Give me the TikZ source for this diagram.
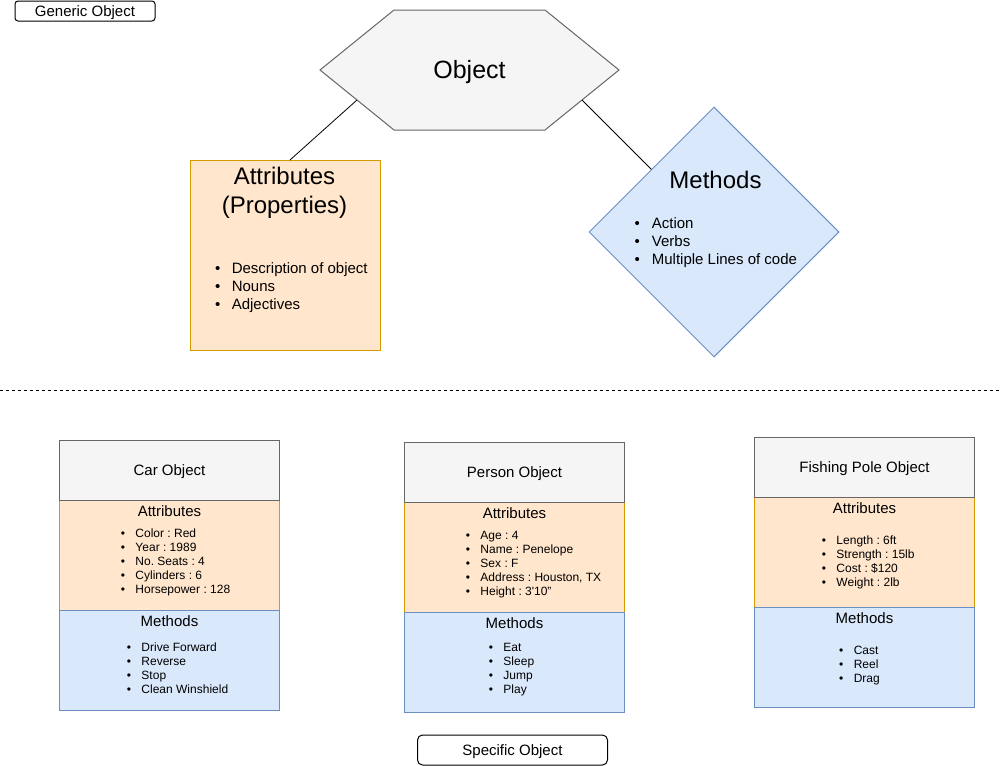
\documentclass[tikz,border=0pt]{standalone}
\usepackage{fontspec}
\setmainfont{Liberation Sans}
\usetikzlibrary{shapes.geometric, positioning}
\usetikzlibrary{calc}

\definecolor{graydraw}{HTML}{666666}
\definecolor{grayfill}{HTML}{F5F5F5}
\definecolor{ordraw}{HTML}{D79B00}
\definecolor{orfill}{HTML}{FFE6CC}
\definecolor{bldraw}{HTML}{6C8EBF}
\definecolor{blfill}{HTML}{DAE8FC}

\newcommand{\bul}[1]{\makebox[0pt]{\textbullet}\hspace{#1}}
\frenchspacing

\begin{document}
\begin{tikzpicture}
	[   x=1pt, y=-1pt,
		box/.style={draw=#1draw,fill=#1fill,line width=1pt,minimum width=220pt,inner sep=0pt,outer sep=0pt,anchor=north west,text depth=0pt,font=\fontsize{15}{18}\selectfont},
		tag/.style={draw=black,fill=white,rounded corners=#1,line width=1pt,inner sep=0pt,text depth=0pt,font=\fontsize{15}{18}\selectfont},
		big/.style={anchor=base,inner sep=0pt,font=\fontsize{#1}{30}\selectfont},
		big/.default=24,
		lbl/.style={anchor=base,inner sep=0pt,font=\fontsize{15}{18}\selectfont},
		item/.style={anchor=base west,inner sep=0pt,font=\fontsize{#1}{18}\selectfont},
		item/.default=12,
	]
	\tikzset{hexa/.style={draw=graydraw,fill=grayfill,line width=1pt}}
	\tikzset{link/.style={draw=black,line width=0.8pt}}
	\tikzset{sep line/.style={draw=black,line width=1pt,dash pattern=on 3pt off 3pt}}
	\useasboundingbox (0,0) rectangle (1002,766);
	
	% generic object
	\node[tag=3pt,minimum width=140pt,minimum height=20pt] (gen) at (85,11) {Generic Object};
	
	\coordinate (hex-w) at (320,70);
	\coordinate (hex-nw) at (394,10);
	\coordinate (hex-ne) at (545,10);
	\coordinate (hex-e) at (619,70);
	\coordinate (hex-se) at (545,130);
	\coordinate (hex-sw) at (394,130);
	\path[hexa] (hex-w) -- (hex-nw) -- (hex-ne) -- (hex-e) -- (hex-se) -- (hex-sw) -- cycle;
	\node[big=25] (obj) at (469.5,78.7) {Object};
	\coordinate (hex-a) at ($(hex-w)!0.5!(hex-sw)$);
	\coordinate (hex-b) at ($(hex-e)!0.5!(hex-se)$);
	
	\node[box=or,minimum width=190pt,minimum height=190pt] (attr) at (190,160) {};
	\node[big] (attr-t1) at (284.5,184) {Attributes};
	\node[big] (attr-t2) at (284.5,213.5) {(Properties)};
	\foreach \t [count=\i] in {Description of object, Nouns, Adjectives}
	{
		\node[item=15] (attr-\i) at (217.6,{273+18*(\i-1)}) {\bul{14pt}\t};
	}
	
	\node[diamond,draw=bldraw,fill=blfill,line width=1pt,minimum width=250pt,minimum height=250pt,inner sep=0pt] (meth) at (714,232) {};
	\node[big] (meth-t) at (715.5,188.5) {Methods};
	\foreach \t [count=\i] in {Action, Verbs, Multiple Lines of code}
	{
		\node[item=15] (meth-\i) at (637,{228.5+18*(\i-1)}) {\bul{14.7pt}\t};
	}
	
	\path[link] (hex-a) -- ([xshift=5pt]attr.north);
	\path[link] (hex-b) -- ($(meth.north)!0.5!(meth.west)$);
	
	% separator
	\coordinate (sep-l) at (0,390);
	\coordinate (sep-r) at (1000,390);
	\path[sep line] (sep-l) -- (sep-r);
	
	% car
	\node[box=or,minimum height=110pt] (car-a) at (59.5,500.5) {};
	\node[box=bl,minimum height=100pt] (car-m) at (59.5,610.5) {};
	\node[box=gray,minimum height=60pt] (car-h) at (59.5,440.5) {Car Object};
	\node[lbl] (car-at) at (169.5,516.4) {Attributes};
	\foreach \t [count=\i] in {Color : Red, Year : 1989, No. Seats : 4, Cylinders : 6, Horsepower : 128}
	{
		\node[item] (car-a-\i) at (122.7,{537+14*(\i-1)}) {\bul{12.6pt}\t};
	}
	\node[lbl] (car-mt) at (169.5,626.4) {Methods};
	\foreach \t [count=\i] in {Drive Forward, Reverse, Stop, Clean Winshield}
	{
		\node[item] (car-m-\i) at (128.7,{651+14*(\i-1)}) {\bul{12.6pt}\t};
	}
	
	% person
	\node[box=or,minimum height=110pt] (per-a) at (404.5,502) {};
	\node[box=bl,minimum height=100pt] (per-m) at (404.5,612) {};
	\node[box=gray,minimum height=60pt] (per-h) at (404.5,442) {Person Object};
	\node[lbl] (per-at) at (514.5,518) {Attributes};
	\foreach \t [count=\i] in {Age : 4, Name : Penelope, Sex : F, {Address : Houston, TX}, Height : 3\textquotesingle 10"}
	{
		\node[item] (per-a-\i) at (467.7,{539.3+14*(\i-1)}) {\bul{12.6pt}\t};
	}
	\node[lbl] (per-mt) at (514.5,628) {Methods};
	\foreach \t [count=\i] in {Eat, Sleep, Jump, Play}
	{
		\node[item] (per-m-\i) at (490.7,{651.3+14*(\i-1)}) {\bul{12.6pt}\t};
	}
	
	% fishing pole
	\node[box=or,minimum height=110pt] (fish-a) at (754.5,497.5) {};
	\node[box=bl,minimum height=100pt] (fish-m) at (754.5,607.5) {};
	\node[box=gray,minimum height=60pt] (fish-h) at (754.5,437.5) {Fishing Pole Object};
	\node[lbl] (fish-at) at (864.5,513.7) {Attributes};
	\foreach \t [count=\i] in {Length : 6ft, Strength : 15lb, Cost : \$120, Weight : 2lb}
	{
		\node[item] (fish-a-\i) at (823.7,{544.3+14*(\i-1)}) {\bul{12.6pt}\t};
	}
	\node[lbl] (fish-mt) at (864.5,623.7) {Methods};
	\foreach \t [count=\i] in {Cast, Reel, Drag}
	{
		\node[item] (fish-m-\i) at (841,{654.3+14*(\i-1)}) {\bul{12.6pt}\t};
	}
	
	% specific object
	\node[tag=5pt,minimum width=190pt,minimum height=30pt] (spec) at (512.5,750) {Specific Object};
\end{tikzpicture}
\end{document}
